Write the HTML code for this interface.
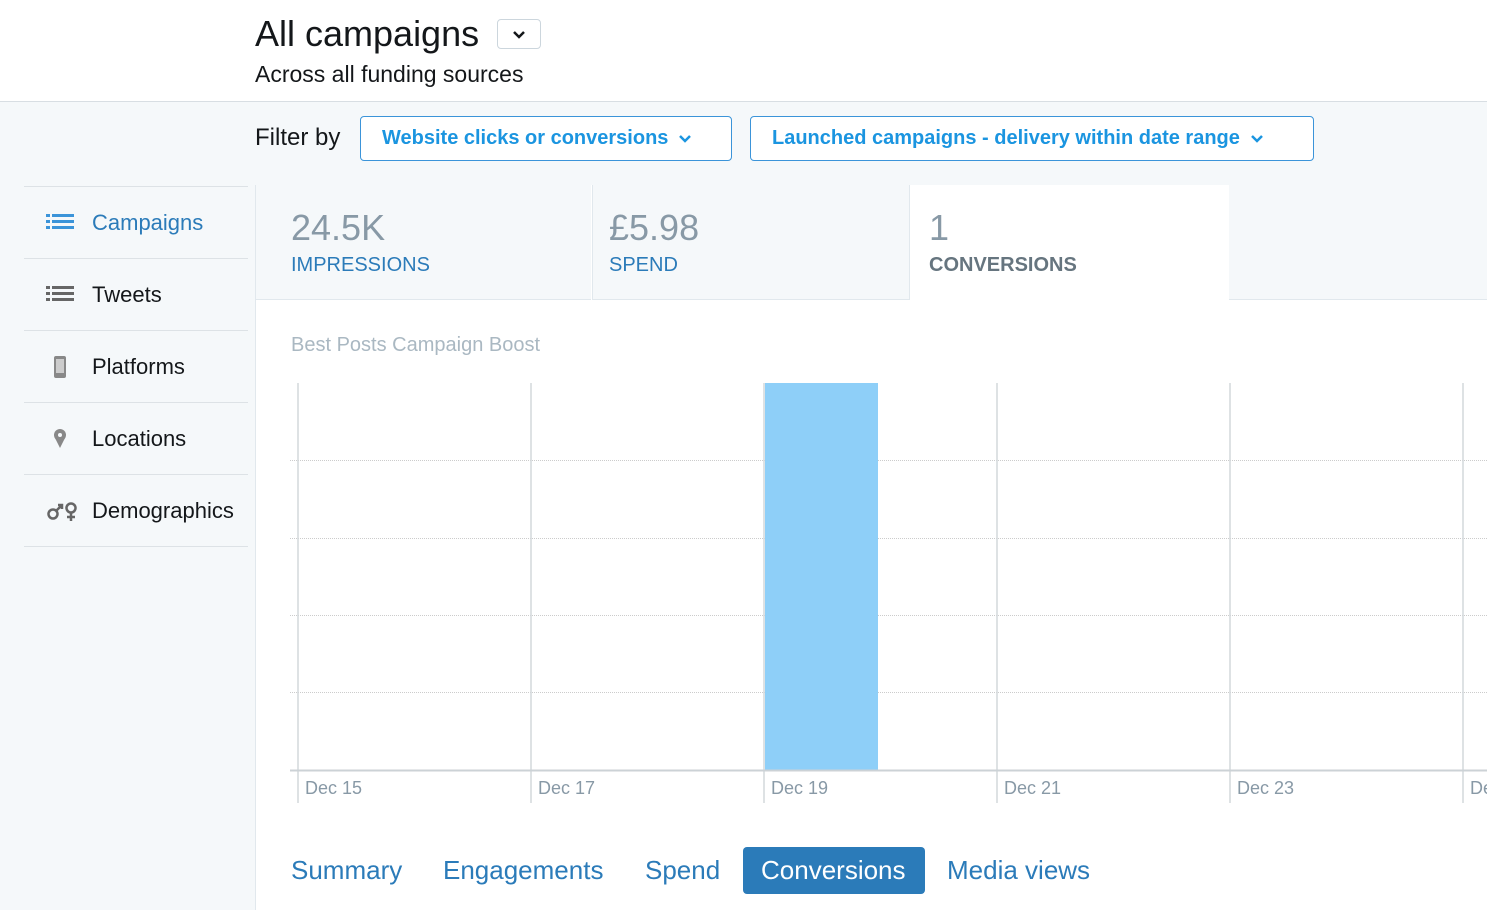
<!DOCTYPE html>
<html><head><meta charset="utf-8"><style>
body{margin:0;width:1487px;height:910px;overflow:hidden;background:#f5f8fa;font-family:"Liberation Sans",Arial,sans-serif;position:relative}
.a{position:absolute;white-space:nowrap}
.nav{position:absolute;left:24px;width:224px;height:71px;border-top:1px solid #dde2e6;font-size:22px;color:#14171a}
.nav span{position:absolute;left:68px;top:23px}
.nav svg{position:absolute;left:20px;top:24px}
.btn{position:absolute;top:116px;height:45px;border:1px solid #3b94d9;border-radius:4px;background:#fff;color:#1b95e0;font-weight:bold;font-size:20px;box-sizing:border-box;line-height:43px;padding-left:21px;white-space:nowrap}
.btn svg{margin-left:10px;vertical-align:middle}
.tab{position:absolute;top:855px;font-size:26px;color:#2b7bb9;white-space:nowrap}
.xl{position:absolute;top:778px;font-size:18px;color:#8899a6;white-space:nowrap}
</style></head><body>
<div class="a" style="left:0;top:0;width:1487px;height:101px;background:#fff;border-bottom:1px solid #d8dee3"></div>
<div class="a" style="left:255px;top:13px;font-size:36px;color:#14171a">All campaigns</div>
<div class="a" style="left:497px;top:19px;width:44px;height:30px;border:1px solid #ccd6dd;border-radius:4px;background:#fff;box-sizing:border-box"><svg width="42" height="28"><path d="M16 12 L21 17 L26 12" stroke="#14171a" stroke-width="2.5" fill="none"/></svg></div>
<div class="a" style="left:255px;top:61px;font-size:23px;color:#14171a">Across all funding sources</div>
<div class="a" style="left:255px;top:124px;font-size:24px;color:#14171a">Filter by</div>
<div class="btn" style="left:360px;width:372px">Website clicks or conversions<svg width="14" height="10"><path d="M2 2 L7 7 L12 2" stroke="#1b95e0" stroke-width="2.5" fill="none"/></svg></div>
<div class="btn" style="left:750px;width:564px">Launched campaigns - delivery within date range<svg width="14" height="10"><path d="M2 2 L7 7 L12 2" stroke="#1b95e0" stroke-width="2.5" fill="none"/></svg></div>

<div class="nav" style="top:186px;color:#2b7bb9"><svg width="32" height="24"><g fill="#3b94d9"><rect x="2" y="3" width="4" height="3"/><rect x="8" y="3" width="22" height="3"/><rect x="2" y="9" width="4" height="3"/><rect x="8" y="9" width="22" height="3"/><rect x="2" y="15" width="4" height="3"/><rect x="8" y="15" width="22" height="3"/></g></svg><span>Campaigns</span></div>
<div class="nav" style="top:258px"><svg width="32" height="24"><g fill="#666"><rect x="2" y="3" width="4" height="3"/><rect x="8" y="3" width="22" height="3"/><rect x="2" y="9" width="4" height="3"/><rect x="8" y="9" width="22" height="3"/><rect x="2" y="15" width="4" height="3"/><rect x="8" y="15" width="22" height="3"/></g></svg><span>Tweets</span></div>
<div class="nav" style="top:330px"><svg width="32" height="26"><rect x="10" y="1" width="12" height="22" rx="2" fill="#888"/><rect x="12" y="4" width="8" height="14" fill="#ccc"/></svg><span>Platforms</span></div>
<div class="nav" style="top:402px"><svg width="32" height="26"><circle cx="16" cy="8" r="6" fill="#888"/><path d="M11 11 L16 21 L21 11Z" fill="#888"/><circle cx="16" cy="8" r="2" fill="#f5f8fa"/></svg><span>Locations</span></div>
<div class="nav" style="top:474px;border-bottom:1px solid #dde2e6"><svg width="40" height="26"><circle cx="9" cy="15" r="4.5" stroke="#666" stroke-width="2.5" fill="none"/><path d="M12 12 L18 6 M14 6 H18 V10" stroke="#666" stroke-width="2.5" fill="none"/><circle cx="27" cy="9" r="4.5" stroke="#666" stroke-width="2.5" fill="none"/><path d="M27 13 V22 M23 18 H31" stroke="#666" stroke-width="2.5"/></svg><span>Demographics</span></div>

<div class="a" style="left:255px;top:185px;width:1232px;height:725px;background:#fff;border-left:1px solid #e1e8ed"></div>
<div class="a" style="left:256px;top:185px;width:335px;height:114px;background:#f5f8fa;border-bottom:1px solid #e1e8ed"></div>
<div class="a" style="left:592px;top:185px;width:317px;height:114px;background:#f5f8fa;border-bottom:1px solid #e1e8ed;border-left:1px solid #e1e8ed"></div>
<div class="a" style="left:909px;top:185px;width:319px;height:115px;background:#fff;border-left:1px solid #e1e8ed;border-right:1px solid #e1e8ed"></div>
<div class="a" style="left:1229px;top:185px;width:258px;height:114px;background:#f5f8fa;border-bottom:1px solid #e1e8ed"></div>
<div class="a" style="left:291px;top:207px;font-size:36px;color:#8899a6">24.5K</div>
<div class="a" style="left:291px;top:254px;font-size:20px;color:#2b7bb9">IMPRESSIONS</div>
<div class="a" style="left:609px;top:207px;font-size:36px;color:#8899a6">£5.98</div>
<div class="a" style="left:609px;top:254px;font-size:20px;color:#2b7bb9">SPEND</div>
<div class="a" style="left:929px;top:207px;font-size:36px;color:#8899a6">1</div>
<div class="a" style="left:929px;top:254px;font-size:20px;color:#66757f;font-weight:bold">CONVERSIONS</div>
<div class="a" style="left:291px;top:334px;font-size:20px;color:#aab8c2">Best Posts Campaign Boost</div>

<svg class="a" style="left:0;top:0" width="1487" height="910">
<g stroke="#ccc" stroke-dasharray="1 1">
<line x1="290" x2="1487" y1="460.5" y2="460.5"/><line x1="290" x2="1487" y1="538.5" y2="538.5"/>
<line x1="290" x2="1487" y1="615.5" y2="615.5"/><line x1="290" x2="1487" y1="692.5" y2="692.5"/>
</g>
<g stroke="#d3d8dc" stroke-width="1.5">
<line x1="298" x2="298" y1="383" y2="803"/><line x1="531" x2="531" y1="383" y2="803"/>
<line x1="764" x2="764" y1="383" y2="803"/><line x1="997" x2="997" y1="383" y2="803"/>
<line x1="1230" x2="1230" y1="383" y2="803"/><line x1="1463" x2="1463" y1="383" y2="803"/>
</g>
<rect x="765" y="383" width="113" height="387" fill="#8ecff8"/>
<line x1="290" x2="1487" y1="770.5" y2="770.5" stroke="#ccd2d6" stroke-width="2"/>
</svg>
<div class="xl" style="left:305px">Dec 15</div>
<div class="xl" style="left:538px">Dec 17</div>
<div class="xl" style="left:771px">Dec 19</div>
<div class="xl" style="left:1004px">Dec 21</div>
<div class="xl" style="left:1237px">Dec 23</div>
<div class="xl" style="left:1470px">Dec 25</div>

<div class="tab" style="left:291px">Summary</div>
<div class="tab" style="left:443px">Engagements</div>
<div class="tab" style="left:645px">Spend</div>
<div class="a" style="left:743px;top:847px;width:182px;height:47px;background:#2b7bb9;border-radius:4px"></div>
<div class="tab" style="left:761px;color:#fff">Conversions</div>
<div class="tab" style="left:947px">Media views</div>
</body></html>
